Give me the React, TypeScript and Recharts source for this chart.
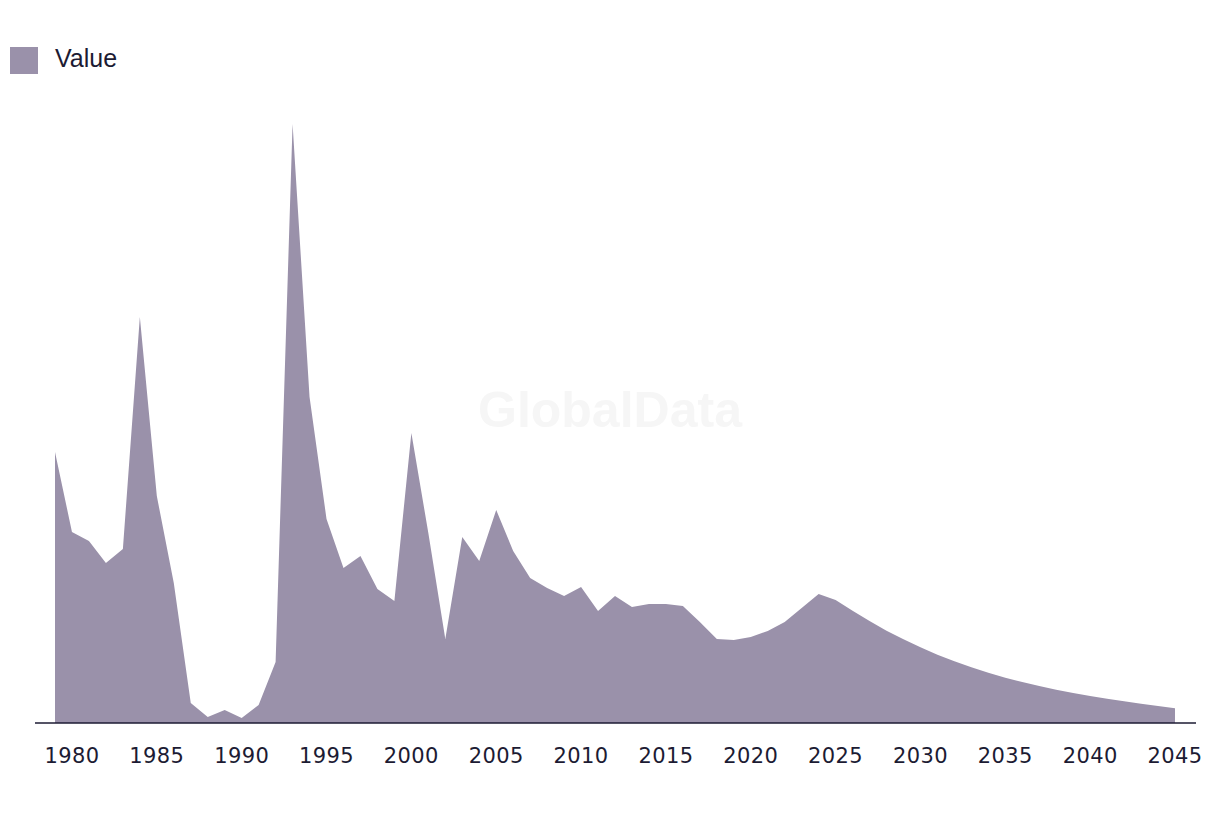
import React from "react";
import { AreaChart, Area, XAxis, YAxis, Legend } from "recharts";

const years: number[] = [];
for (let y = 1979; y <= 2045; y++) years.push(y);

const values: number[] = [
  271, 191, 182, 160, 174, 406, 227, 140, 20, 6,
  13, 5, 18, 61, 599, 326, 204, 155, 167, 134,
  122, 290, 190, 84, 186, 162, 213, 172, 145, 135,
  127, 136, 112, 127, 116, 119, 119, 117, 101, 84,
  83, 86, 92, 101, 115, 129, 123, 112.3, 102, 92.3,
  83.7, 75.7, 68.3, 61.7, 55.7, 50.3, 45.3, 41, 37, 33.3,
  30, 27, 24.3, 21.7, 19.3, 17, 14.7,
];

const tickYears: number[] = [1980, 1985, 1990, 1995, 2000, 2005, 2010, 2015, 2020, 2025, 2030, 2035, 2040, 2045];

const seriesName = "Value";

const data = years.map((year, i) => ({ year, value: values[i] }));

const FILL = "#9a91aa";
const INK = "#1c1b33";

const LegendContent = () => (
  <div style={{ display: "flex", alignItems: "center", fontFamily: "'Liberation Sans', Arial, sans-serif" }}>
    <div style={{ width: 28, height: 27, background: FILL }} />
    <span style={{ marginLeft: 17, fontSize: 25, color: INK, position: "relative", top: -2 }}>{seriesName}</span>
  </div>
);

export default function App() {
  return (
    <div style={{ position: "absolute", left: 0, top: 0, width: 1220, height: 814, background: "#fff" }}>
      <div
        style={{
          position: "absolute",
          left: 478,
          top: 381,
          fontFamily: "'Liberation Sans', Arial, sans-serif",
          fontWeight: 700,
          fontSize: 50,
          color: "#f6f6f6",
          whiteSpace: "nowrap",
        }}
      >
        GlobalData
      </div>
      <AreaChart
        width={1220}
        height={814}
        data={data}
        margin={{ top: 123, right: 24, bottom: 41, left: 35 }}
      >
        <XAxis
          dataKey="year"
          type="number"
          domain={[1979, 2045]}
          ticks={tickYears}
          padding={{ left: 20, right: 21 }}
          height={50}
          tickLine={false}
          tickSize={0}
          tickMargin={25}
          axisLine={{ stroke: INK, strokeWidth: 1.5 }}
          tick={{ fill: INK, fontSize: 21, fontFamily: "'DejaVu Sans', sans-serif", letterSpacing: 0.4 }}
          interval={0}
        />
        <YAxis hide width={0} domain={[0, 600]} />
        <Legend
          layout="horizontal"
          verticalAlign="middle"
          align="center"
          wrapperStyle={{ top: 46, left: 10, width: "auto" }}
          content={() => <LegendContent />}
        />
        <Area
          type="linear"
          dataKey="value"
          name={seriesName}
          fill={FILL}
          fillOpacity={1}
          stroke="none"
          isAnimationActive={false}
        />
      </AreaChart>
    </div>
  );
}
